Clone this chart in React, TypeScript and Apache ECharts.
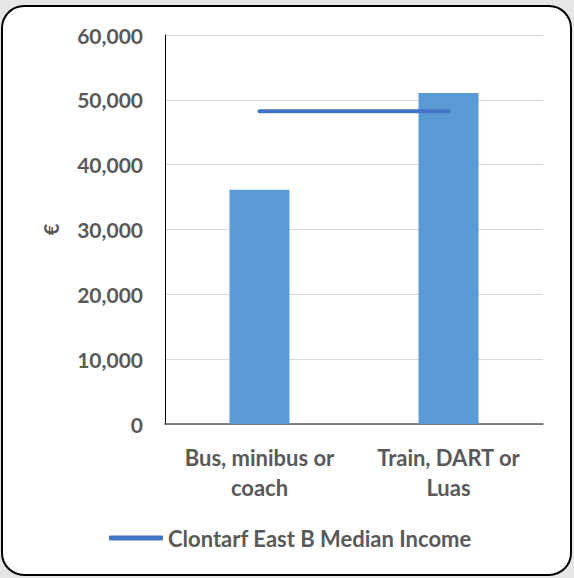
import React, { useEffect, useRef } from "react";
import * as echarts from "echarts";

const categories = ["Bus, minibus or\ncoach", "Train, DART or\nLuas"];
const incomeValues = [36150, 51050];
const medianName = "Clontarf East B Median Income";
const medianValues = [48250, 48250];
const yTicks = { min: 0, max: 60000, interval: 10000 };

const FONT = "Lato";
const TXT = "#595959";

export default function App() {
  const ref = useRef<HTMLDivElement>(null);
  useEffect(() => {
    document.body.style.margin = "0";
    const chart = echarts.init(ref.current!, null, { renderer: "svg" });
    chart.setOption({
      animation: false,
      backgroundColor: "#e6e6e6",
      graphic: [
        {
          type: "rect",
          z: -10,
          shape: { x: 2, y: 6, width: 569, height: 569, r: 22 },
          style: { fill: "#ffffff", stroke: "#000000", lineWidth: 2 },
        },
      ],
      grid: { left: 165, right: 31, top: 35, bottom: 154 },
      legend: {
        data: [{ name: medianName, icon: "roundRect" }],
        left: 104,
        top: 522,
        itemWidth: 54,
        itemHeight: 5,
        itemGap: 6,
        textStyle: { color: TXT, fontFamily: FONT, fontSize: 22, fontWeight: "bold" },
      },
      xAxis: {
        type: "category",
        data: categories,
        axisTick: { show: false },
        axisLine: { show: true, lineStyle: { color: "#595959", width: 1.5 } },
        axisLabel: {
          color: TXT,
          fontFamily: FONT,
          fontSize: 22,
          fontWeight: "bold",
          lineHeight: 30,
          margin: 18,
          interval: 0,
        },
      },
      yAxis: {
        type: "value",
        min: yTicks.min,
        max: yTicks.max,
        interval: yTicks.interval,
        name: "€",
        nameLocation: "middle",
        nameRotate: 90,
        nameGap: 104,
        nameTextStyle: { color: TXT, fontFamily: FONT, fontSize: 20, fontWeight: "bold" },
        axisLine: { show: true, lineStyle: { color: "#000000", width: 1 } },
        axisTick: { show: false },
        splitLine: { lineStyle: { color: "#d9d9d9", width: 1 } },
        axisLabel: {
          color: TXT,
          fontFamily: FONT,
          fontSize: 21,
          fontWeight: "bold",
          margin: 22,
          formatter: (v: number) => v.toLocaleString("en-US"),
        },
      },
      series: [
        {
          type: "bar",
          name: "Income",
          data: incomeValues,
          barWidth: 60,
          itemStyle: { color: "#5b9bd5" },
        },
        {
          type: "line",
          name: medianName,
          data: medianValues,
          symbol: "none",
          lineStyle: { color: "#4472c4", width: 4, cap: "round" },
          itemStyle: { color: "#4472c4" },
        },
      ],
    });
    return () => chart.dispose();
  }, []);
  return (
    <div
      ref={ref}
      style={{ position: "fixed", left: 0, top: 0, width: 574, height: 578 }}
    />
  );
}
